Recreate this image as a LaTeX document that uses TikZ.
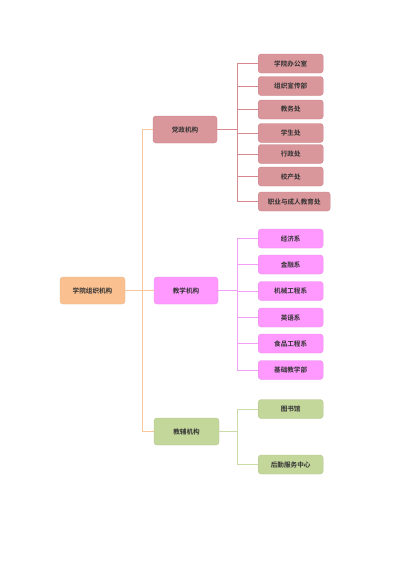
\documentclass[tikz,border=0pt]{standalone}
\usepackage{fontspec}
\newfontfamily\cjk{Noto Sans CJK SC}[BoldFont={Noto Sans CJK SC Bold}]
\begin{document}
\begin{tikzpicture}[x=1pt,y=-1pt,
  box/.style={rounded corners=3pt, minimum height=19pt, minimum width=65pt, inner sep=1pt, font=\cjk\bfseries\fontsize{6.6}{7.5}\selectfont, text=black!80},
  mid/.style={box, minimum height=27pt},
  dzbox/.style={box, fill=dzfill, draw=dzdraw, line width=0.4pt},
  jxbox/.style={box, fill=jxfill, draw=jxfill!90!black, line width=0.3pt},
  jfbox/.style={box, fill=jffill, draw=jffill!90!black, line width=0.3pt},
  dzline/.style={draw=dzline, line width=0.8pt},
  jxline/.style={draw=jxline, line width=0.8pt},
  jfline/.style={draw=jfline, line width=0.8pt},
  trunk/.style={draw=trunkc, line width=0.8pt}
]
\definecolor{dzfill}{HTML}{D9969B}
\definecolor{dzdraw}{HTML}{CC8088}
\definecolor{dzline}{HTML}{D7898F}
\definecolor{jxfill}{HTML}{FF99FF}
\definecolor{jxline}{HTML}{F2A0F2}
\definecolor{jffill}{HTML}{C4D79B}
\definecolor{jfline}{HTML}{CBDBA8}
\definecolor{rootfill}{HTML}{FAC090}
\definecolor{trunkc}{HTML}{F7C79C}
\useasboundingbox (0,0) rectangle (400,565);
\fill[white] (0,0) rectangle (400,565);

\node[mid, fill=rootfill, draw=rootfill!92!black, line width=0.3pt] (root) at (92.5,290.5) {学院组织机构};
\node[mid, fill=dzfill, draw=dzdraw, line width=0.4pt, minimum width=64pt] (dz) at (185,129.5) {党政机构};
\node[mid, fill=jxfill, draw=jxfill!90!black, line width=0.3pt, minimum width=64pt] (jx) at (186,290.5) {教学机构};
\node[mid, fill=jffill, draw=jffill!90!black, line width=0.3pt] (jf) at (186.5,431.5) {教辅机构};

% trunk
\coordinate (tk) at (142,129.5);
\draw[trunk] (dz.west) -- (tk) |- (jf.west);
\draw[trunk] (root.east) -- (jx.west);

% dangzheng leaves
\node[dzbox, anchor=west] (a1) at (258,63.5) {学院办公室};
\node[dzbox, anchor=west] (a2) at (258,86) {组织宣传部};
\node[dzbox, anchor=west] (a3) at (258,109.5) {教务处};
\node[dzbox, anchor=west] (a4) at (258,133) {学生处};
\node[dzbox, anchor=west] (a5) at (258,154) {行政处};
\node[dzbox, anchor=west] (a6) at (258,176.5) {校产处};
\node[dzbox, anchor=west, minimum width=72pt] (a7) at (258,201.5) {职业与成人教育处};
\coordinate (dzb) at (237,129.5);
\draw[dzline] (dz.east) -- (dzb);
\foreach \n in {a1,a2,a3,a4,a5,a6,a7} \draw[dzline] (\n.west) -| (dzb);

% jiaoxue leaves
\node[jxbox, anchor=west] (b1) at (258,238.5) {经济系};
\node[jxbox, anchor=west] (b2) at (258,264.5) {金融系};
\node[jxbox, anchor=west] (b3) at (258,291) {机械工程系};
\node[jxbox, anchor=west] (b4) at (258,317.5) {英语系};
\node[jxbox, anchor=west] (b5) at (258,343.5) {食品工程系};
\node[jxbox, anchor=west] (b6) at (258,370) {基础教学部};
\coordinate (jxb) at (237,290.5);
\draw[jxline] (jx.east) -- (jxb);
\foreach \n in {b1,b2,b3,b4,b5,b6} \draw[jxline] (\n.west) -| (jxb);

% jiaofu leaves
\node[jfbox, anchor=west] (c1) at (258,409) {图书馆};
\node[jfbox, anchor=west] (c2) at (258,464.5) {后勤服务中心};
\coordinate (jfb) at (237,431.5);
\draw[jfline] (jf.east) -- (jfb);
\foreach \n in {c1,c2} \draw[jfline] (\n.west) -| (jfb);
\end{tikzpicture}
\end{document}
